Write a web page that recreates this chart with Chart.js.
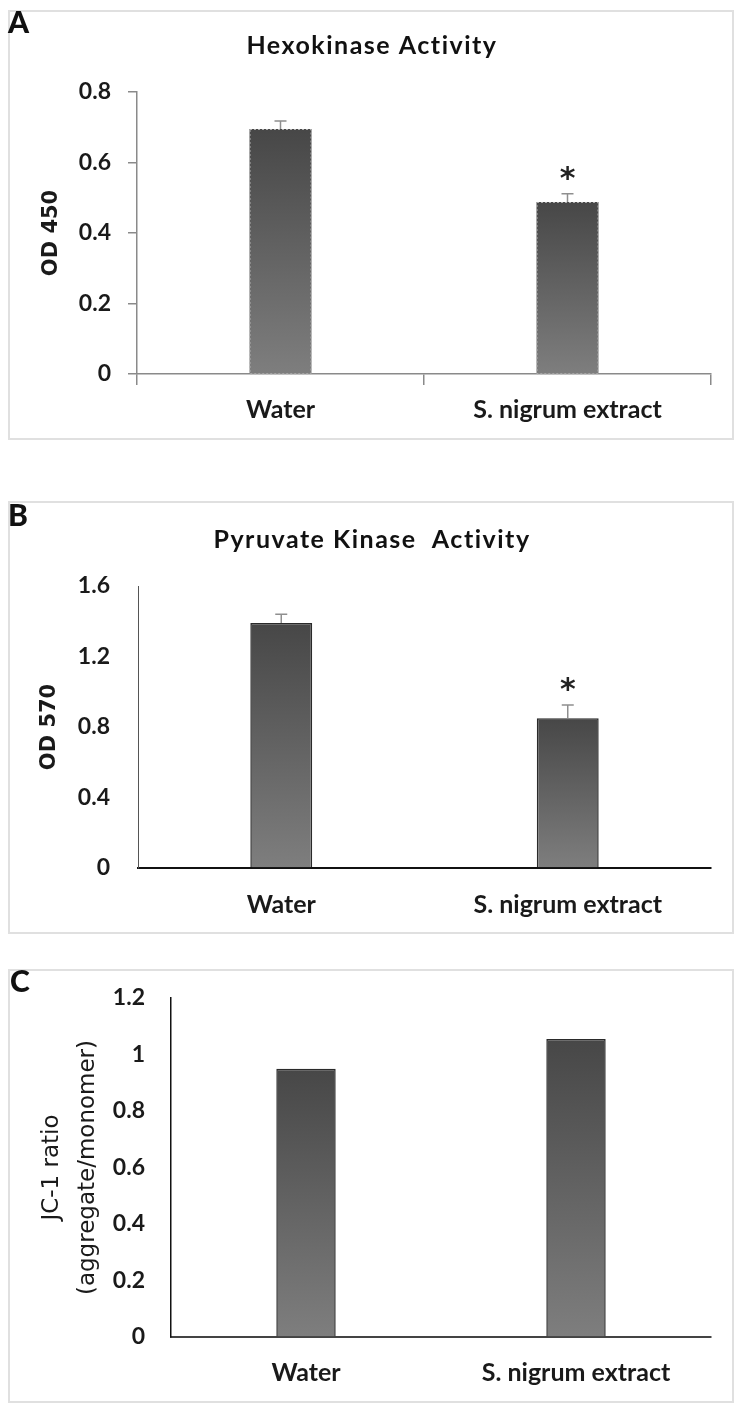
<!DOCTYPE html>
<html>
<head>
<meta charset="utf-8">
<title>Glycolysis enzymes and JC-1</title>
<script src="https://cdn.jsdelivr.net/npm/chart.js@4.4.1/dist/chart.umd.min.js"></script>
<style>
  body { margin: 0; background: #fff; width: 743px; height: 1412px; position: relative; overflow: hidden; }
  .frame { position: absolute; left: 8px; width: 726px; border: 2px solid #e0e0e0; box-sizing: border-box; }
  .wrap { position: absolute; left: 0; width: 743px; }
</style>
</head>
<body>
<div class="frame" style="top:10px;height:430px"></div>
<div class="frame" style="top:501px;height:433px"></div>
<div class="frame" style="top:969px;height:434px"></div>

<div class="wrap" style="top:0px;height:450px"><canvas id="chartA" width="743" height="450"></canvas></div>
<div class="wrap" style="top:470px;height:470px"><canvas id="chartB" width="743" height="470"></canvas></div>
<div class="wrap" style="top:940px;height:472px"><canvas id="chartC" width="743" height="472"></canvas></div>

<script>
// --- data ---
const categories = ['Water', 'S. nigrum extract'];

const hexokinase = [0.695, 0.488];
const hexokinaseErr = [0.023, 0.023];
const hexokinaseSig = ['', '*'];
const yTicksA = [0, 0.2, 0.4, 0.6, 0.8];

const pyruvateKinase = [1.39, 0.85];
const pyruvateKinaseErr = [0.05, 0.075];
const pyruvateKinaseSig = ['', '*'];
const yTicksB = [0, 0.4, 0.8, 1.2, 1.6];

const jc1Ratio = [0.95, 1.055];
const yTicksC = [0, 0.2, 0.4, 0.6, 0.8, 1, 1.2];

const tickFont = { family: 'Lato', weight: 'bold', size: 23 };
const catFont = { family: 'Lato', weight: 'bold', size: 25 };

// gradient per bar: dark on top, lighter at the base
function barFill(ctx) {
    const chart = ctx.chart;
    if (!chart.chartArea) return '#5a5a5a';
    const y = chart.scales.y;
    const top = y.getPixelForValue(ctx.raw);
    const bottom = y.getPixelForValue(0);
    const g = chart.ctx.createLinearGradient(0, top, 0, bottom);
    g.addColorStop(0, '#474747');
    g.addColorStop(1, '#7e7e7e');
    return g;
}

// error bars, significance stars, panel letter and title
const annotPlugin = {
    id: 'annot',
    afterDatasetsDraw(chart, args, opts) {
        const ctx = chart.ctx;
        const y = chart.scales.y;
        const meta = chart.getDatasetMeta(0);
        const values = chart.data.datasets[0].data;
        ctx.save();
        meta.data.forEach((bar, i) => {
            if (opts.dashed) {
                ctx.strokeStyle = '#b0b0b0';
                ctx.lineWidth = 1;
                ctx.setLineDash([2, 2]);
                ctx.strokeRect(bar.x - bar.width / 2 + 0.5, bar.y + 0.5, bar.width - 1, bar.base - bar.y);
                ctx.setLineDash([]);
            }
            let top = bar.y;
            if (opts.err) {
                top = y.getPixelForValue(values[i] + opts.err[i]);
                ctx.strokeStyle = '#8f8f8f';
                ctx.lineWidth = 1.5;
                ctx.beginPath();
                ctx.moveTo(bar.x, bar.y);
                ctx.lineTo(bar.x, top);
                ctx.moveTo(bar.x - 6, top);
                ctx.lineTo(bar.x + 6, top);
                ctx.stroke();
            }
            if (opts.sig && opts.sig[i]) {
                ctx.fillStyle = '#222';
                ctx.font = 'bold 30px "DejaVu Sans"';
                ctx.textAlign = 'center';
                ctx.textBaseline = 'alphabetic';
                ctx.fillText(opts.sig[i], bar.x, top - 6);
            }
        });
        ctx.restore();
    },
    afterDraw(chart, args, opts) {
        const ctx = chart.ctx;
        ctx.save();
        ctx.fillStyle = '#111';
        ctx.textBaseline = 'alphabetic';
        ctx.textAlign = 'left';
        ctx.font = '900 30px Lato';
        ctx.fillText(opts.letter, opts.letterX, opts.letterY);
        if (opts.title) {
            ctx.font = 'bold 25px Lato';
            ctx.letterSpacing = '1.5px';
            ctx.textAlign = 'center';
            ctx.fillText(opts.title, 372, opts.titleY);
        }
        ctx.restore();
    }
};

function makeChart(id, p) {
    return new Chart(document.getElementById(id), {
        type: 'bar',
        data: {
            labels: categories,
            datasets: [{
                data: p.values,
                backgroundColor: barFill,
                borderColor: p.barBorder,
                borderWidth: p.barBorderWidth,
                barPercentage: p.barPct,
                categoryPercentage: 1
            }]
        },
        options: {
            responsive: false,
            animation: false,
            layout: { padding: { top: p.top, right: 32, bottom: p.bottom, left: 0 } },
            plugins: {
                legend: { display: false },
                tooltip: { enabled: false },
                annot: p.annot
            },
            scales: {
                x: {
                    grid: {
                        display: p.xTicks, drawOnChartArea: false, drawTicks: p.xTicks,
                        tickLength: 11, color: p.xColor, lineWidth: 1.5, offset: true
                    },
                    border: { display: true, color: p.xColor, width: p.xWidth },
                    ticks: { font: catFont, color: '#1a1a1a', padding: p.xPad, autoSkip: false, maxRotation: 0 },
                    afterFit(s) { s.height = 60; s.paddingLeft = 0; s.paddingRight = 0; }
                },
                y: {
                    min: 0,
                    max: p.ticks[p.ticks.length - 1],
                    afterBuildTicks(s) { s.ticks = p.ticks.map(v => ({ value: v })); },
                    grid: {
                        display: true, drawOnChartArea: false, drawTicks: p.yTicks,
                        tickLength: 9, color: p.yColor, lineWidth: 1.5
                    },
                    border: { display: true, color: p.yColor, width: p.yWidth },
                    ticks: {
                        font: tickFont, color: '#1a1a1a', padding: p.yPad,
                        callback: v => String(+v.toFixed(2))
                    },
                    title: {
                        display: true,
                        text: p.yTitle,
                        font: p.yTitleFont,
                        color: '#1a1a1a',
                        padding: { top: p.yTitlePad, bottom: 0 }
                    },
                    afterFit(s) { s.width = p.left; s.paddingTop = 0; s.paddingBottom = 0; }
                }
            }
        },
        plugins: [annotPlugin]
    });
}

function drawAll() {
    makeChart('chartA', {
        values: hexokinase, ticks: yTicksA,
        top: 92, bottom: 16, left: 137,
        barPct: 0.216, barBorder: 'rgba(0,0,0,0)', barBorderWidth: 0,
        xTicks: true, xColor: '#8a8a8a', xWidth: 1.5, xPad: 10,
        yTicks: true, yColor: '#8a8a8a', yWidth: 1.5, yPad: 17,
        yTitle: 'OD 450', yTitleFont: { family: 'DejaVu Sans', weight: 'bold', size: 21 }, yTitlePad: 39,
        annot: { err: hexokinaseErr, sig: hexokinaseSig, dashed: true,
                 letter: 'A', letterX: 8, letterY: 33, title: 'Hexokinase Activity', titleY: 54 }
    });
    makeChart('chartB', {
        values: pyruvateKinase, ticks: yTicksB,
        top: 116, bottom: 12, left: 138,
        barPct: 0.216, barBorder: '#2a2a2a', barBorderWidth: 1.5,
        xTicks: false, xColor: '#111', xWidth: 2, xPad: 22,
        yTicks: false, yColor: '#555', yWidth: 1, yPad: 28,
        yTitle: 'OD 570', yTitleFont: { family: 'DejaVu Sans', weight: 'bold', size: 21 }, yTitlePad: 37,
        annot: { err: pyruvateKinaseErr, sig: pyruvateKinaseSig, dashed: false,
                 letter: 'B', letterX: 8, letterY: 56, title: 'Pyruvate Kinase  Activity', titleY: 78 }
    });
    makeChart('chartC', {
        values: jc1Ratio, ticks: yTicksC,
        top: 58, bottom: 15, left: 171,
        barPct: 0.22, barBorder: '#2a2a2a', barBorderWidth: 1.5,
        xTicks: false, xColor: '#444', xWidth: 2, xPad: 21,
        yTicks: false, yColor: '#111', yWidth: 1.5, yPad: 26,
        yTitle: ['JC-1 ratio', '(aggregate/monomer)'],
        yTitleFont: { family: 'DejaVu Sans', weight: 'normal', size: 23, lineHeight: 1.565 }, yTitlePad: 34,
        annot: { err: null, sig: null, dashed: false,
                 letter: 'C', letterX: 10, letterY: 52, title: null }
    });
}

Promise.all([
    document.fonts.load('bold 20px Lato'),
    document.fonts.load('900 20px Lato'),
    document.fonts.load('bold 20px "DejaVu Sans"'),
    document.fonts.load('20px "DejaVu Sans"')
]).then(drawAll, drawAll);
</script>
</body>
</html>
